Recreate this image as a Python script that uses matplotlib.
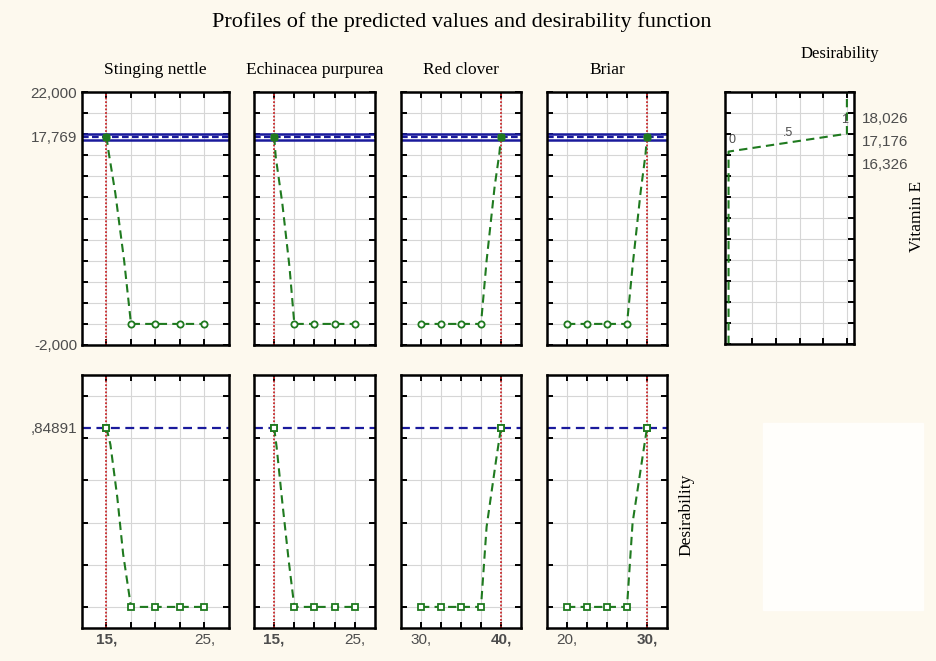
import matplotlib
matplotlib.use('Agg')
import matplotlib.pyplot as plt
import matplotlib.transforms as mtransforms
from matplotlib.patches import Rectangle

# datos
factores = ["Stinging nettle", "Echinacea purpurea", "Red clover", "Briar"]
niveles = [
    [15, 17.5, 20, 22.5, 25],
    [15, 17.5, 20, 22.5, 25],
    [30, 32.5, 35, 37.5, 40],
    [20, 22.5, 25, 27.5, 30],
]
actual = [15, 15, 40, 30]
etiquetas_x = [
    ["15,", "", "", "", "25,"],
    ["15,", "", "", "", "25,"],
    ["30,", "", "", "", "40,"],
    ["20,", "", "", "", "30,"],
]
negrita = [0, 0, 4, 4]

# perfil de vitamina E (valor predicho)
perfil_x = [
    [15, 15.2, 15.9, 16.8, 17.5, 20, 22.5, 25],
    [15, 15.2, 16.0, 16.9, 17.5, 20, 22.5, 25],
    [30, 32.5, 35, 37.5, 38.2, 39.2, 39.8, 40],
    [20, 22.5, 25, 27.5, 28.2, 29.2, 29.8, 30],
]
perfil_y = [
    [17.769, 16.4, 12.4, 6.0, 0, 0, 0, 0],
    [17.769, 15.8, 11.5, 5.4, 0, 0, 0, 0],
    [0, 0, 0, 0, 6.0, 13.0, 16.2, 17.769],
    [0, 0, 0, 0, 5.5, 12.5, 16.0, 17.769],
]
# perfil de deseabilidad
deseab_x = [
    [15, 15.4, 16.1, 16.7, 17.5, 20, 22.5, 25],
    [15, 15.3, 16.0, 16.8, 17.5, 20, 22.5, 25],
    [30, 32.5, 35, 37.5, 38.2, 39.4, 39.8, 40],
    [20, 22.5, 25, 27.5, 28.2, 29.4, 29.8, 30],
]
deseab_y = [
    [0.84891, 0.77, 0.52, 0.25, 0, 0, 0, 0],
    [0.84891, 0.76, 0.50, 0.22, 0, 0, 0, 0],
    [0, 0, 0, 0, 0.38, 0.70, 0.80, 0.84891],
    [0, 0, 0, 0, 0.40, 0.70, 0.80, 0.84891],
]
indice_niveles = [[0, 4, 5, 6, 7], [0, 4, 5, 6, 7], [0, 1, 2, 3, 7], [0, 1, 2, 3, 7]]
indice_actual = [0, 0, 7, 7]

valor_pred = 17.769
ic_bajo = 17.45
ic_alto = 18.05
valor_des = 0.84891

# funcion de deseabilidad
func_d = [0, 0, 0.5, 1, 1]
func_y = [-2, 16.326, 17.176, 18.026, 22]
limites_vals = ["18,026", "17,176", "16,326"]

VERDE = '#1f7a1f'
AZUL = '#1a1a9c'
ROJO = '#c8282a'
GRIS = '#4d4d4d'
FONDO = '#fdf9ee'

plt.rcParams['font.family'] = ['Liberation Sans', 'DejaVu Sans']

fig = plt.figure(figsize=(9.37, 6.61), dpi=100)
fig.patch.set_facecolor(FONDO)
fig.patches.append(Rectangle((763 / 937, 1 - 610 / 661), 160 / 937, 187 / 661,
                             transform=fig.transFigure, color='#fffefb', zorder=-1))

W, H = 937.0, 661.0


def caja(x0, y0, x1, y1):
    return [x0 / W, 1 - y1 / H, (x1 - x0) / W, (y1 - y0) / H]


columnas = [(82, 229), (254, 375), (401, 521), (547, 667)]
fila_sup = (92, 345)
fila_inf = (375, 628)


def estilo(ax):
    ax.set_facecolor('white')
    for s in ax.spines.values():
        s.set_linewidth(1.8)
        s.set_color('black')
    ax.tick_params(which='major', direction='in', length=4, width=1.4,
                   top=True, right=True, labelcolor=GRIS, labelsize=11)
    ax.tick_params(which='minor', length=0, labelcolor=GRIS, labelsize=11)
    ax.grid(True, which='major', color='#d6d6d6', linewidth=0.8)
    ax.set_axisbelow(True)


serif = ['Liberation Serif', 'DejaVu Serif']

for i in range(4):
    x0, x1 = columnas[i]
    paso = niveles[i][1] - niveles[i][0]
    xlim = (niveles[i][0] - paso, niveles[i][-1] + paso)

    # fila superior: vitamina E
    ax = fig.add_axes(caja(x0, fila_sup[0], x1, fila_sup[1]))
    estilo(ax)
    ax.set_xlim(xlim)
    ax.set_ylim(-2, 22)
    ax.set_xticks(niveles[i])
    ax.set_xticklabels([])
    ax.set_yticks(range(-2, 23, 2))
    if i == 0:
        ax.set_yticklabels(["-2,000"] + [""] * 11 + ["22,000"])
        ax.set_yticks([valor_pred], ["17,769"], minor=True)
    else:
        ax.set_yticklabels([])
    ax.axhline(ic_alto, color=AZUL, lw=1.8)
    ax.axhline(ic_bajo, color=AZUL, lw=1.8)
    ax.axhline(valor_pred, color=AZUL, lw=1.6, ls=(0, (3, 1.5)))
    ax.axvline(actual[i], color=ROJO, lw=1.3, ls=(0, (1, 1)))
    ax.plot(perfil_x[i], perfil_y[i], color=VERDE, lw=1.5, ls=(0, (4, 2.5)),
            marker='o', markersize=4.5, markerfacecolor='white',
            markeredgecolor=VERDE, markeredgewidth=1.3,
            markevery=indice_niveles[i])
    k = indice_actual[i]
    ax.plot(perfil_x[i][k], perfil_y[i][k], 's', color=VERDE, markersize=5)
    ax.set_title(factores[i], family=serif, fontsize=12.5, pad=13)

    # fila inferior: deseabilidad
    ax = fig.add_axes(caja(x0, fila_inf[0], x1, fila_inf[1]))
    estilo(ax)
    ax.set_xlim(xlim)
    ax.set_ylim(-0.1, 1.1)
    ax.set_xticks(niveles[i])
    ax.set_xticklabels(etiquetas_x[i])
    ax.get_xticklabels()[negrita[i]].set_fontweight('bold')
    ax.set_yticks([0, 0.2, 0.4, 0.6, 0.8, 1.0])
    ax.set_yticklabels([])
    if i == 0:
        ax.set_yticks([valor_des], [",84891"], minor=True)
    ax.axhline(valor_des, color=AZUL, lw=1.6, ls=(0, (4, 2.5)))
    ax.axvline(actual[i], color=ROJO, lw=1.3, ls=(0, (1, 1)))
    ax.plot(deseab_x[i], deseab_y[i], color=VERDE, lw=1.5, ls=(0, (4, 2.5)),
            marker='s', markersize=4.5, markerfacecolor='white',
            markeredgecolor=VERDE, markeredgewidth=1.3,
            markevery=indice_niveles[i])
    ax.plot(deseab_x[i][k], deseab_y[i][k], 's', color=VERDE, markersize=5,
            markerfacecolor='white', markeredgewidth=1.3)

# panel de la funcion de deseabilidad
ax = fig.add_axes(caja(725, 92, 854, 344))
estilo(ax)
ax.set_xlim(-0.03, 1.06)
ax.set_ylim(-2, 22)
ax.set_xticks([0.2, 0.4, 0.6, 0.8, 1.0])
ax.set_xticklabels([])
ax.set_yticks(range(-2, 23, 2))
ax.set_yticklabels([])
ax.plot(func_d, func_y, color=VERDE, lw=1.5, ls=(0, (4, 2.5)))
ax.text(0.0, 17.4, "0", fontsize=9, color=GRIS, ha='left', va='center')
ax.text(0.5, 18.1, ".5", fontsize=9, color=GRIS, ha='center', va='center')
ax.text(0.98, 19.3, "1", fontsize=9, color=GRIS, ha='center', va='center')
tr = mtransforms.blended_transform_factory(ax.transAxes, ax.transData)
for etiqueta, y in zip(limites_vals, [19.43, 17.24, 15.05]):
    ax.text(1.06, y, etiqueta, transform=tr, fontsize=11, color=GRIS,
            ha='left', va='center')

fig.text(840 / W, 1 - 54 / H, "Desirability", family=serif, fontsize=12,
         ha='center', va='center')
fig.text(917 / W, 1 - 216 / H, "Vitamin E", family=serif, fontsize=12.5,
         rotation=90, ha='center', va='center')
fig.text(686 / W, 1 - 515 / H, "Desirability", family=serif, fontsize=12.5,
         rotation=90, ha='center', va='center')
fig.text(462 / W, 1 - 22 / H, "Profiles of the predicted values and desirability function",
         family=serif, fontsize=16, ha='center', va='center')

fig.savefig("out.png", dpi=100, facecolor=fig.get_facecolor())
